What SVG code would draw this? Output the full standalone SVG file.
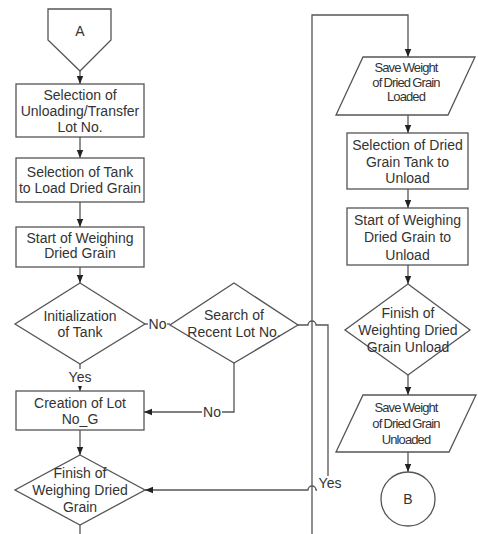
<svg xmlns="http://www.w3.org/2000/svg" width="478" height="534" viewBox="0 0 478 534">
<defs>
<marker id="ah" markerUnits="userSpaceOnUse" markerWidth="8" markerHeight="8" viewBox="0 0 8 8" refX="8" refY="4" orient="auto">
<path d="M0,0.8 L8,4 L0,7.2 Z" fill="#222"/>
</marker>
<style>
.s{fill:#fff;stroke:#555;stroke-width:1.3}
.c{fill:none;stroke:#555;stroke-width:1.3}
.t{font-family:"Liberation Sans",Arial,sans-serif;font-size:14px;fill:#333;text-anchor:middle}
.n{font-family:"Liberation Sans",Arial,sans-serif;font-size:13px;letter-spacing:-0.9px;word-spacing:-0.5px;fill:#333;text-anchor:middle}
.bg{fill:#fff}
</style>
</defs>
<g id="connectors">
<path class="c" d="M80,71 V84" marker-end="url(#ah)"/>
<path class="c" d="M80,137 V158" marker-end="url(#ah)"/>
<path class="c" d="M80,202 V227" marker-end="url(#ah)"/>
<path class="c" d="M80,267 V283" marker-end="url(#ah)"/>
<path class="c" d="M80,364 V391" marker-end="url(#ah)"/>
<path class="c" d="M80,430 V455" marker-end="url(#ah)"/>
<path class="c" d="M80,525 V534"/>
<path class="c" d="M145,324 H170"/>
<path class="c" d="M234,363 V412 H144" marker-end="url(#ah)"/>
<path class="c" d="M298,325 H308 A4,4 0 0 1 316,325 H328 V490 H316 A4,4 0 0 0 308,490 H145" marker-end="url(#ah)"/>
<path class="c" d="M312,534 V15 H408 V57" marker-end="url(#ah)"/>
<path class="c" d="M408,115 V133" marker-end="url(#ah)"/>
<path class="c" d="M408,189 V208" marker-end="url(#ah)"/>
<path class="c" d="M408,265 V284" marker-end="url(#ah)"/>
<path class="c" d="M408,375 V395" marker-end="url(#ah)"/>
<path class="c" d="M408,452 V472" marker-end="url(#ah)"/>
<rect class="bg" x="148" y="317" width="19" height="15"/>
<text class="t" x="157.5" y="329">No</text>
<rect class="bg" x="202" y="405" width="20" height="15"/>
<text class="t" x="212" y="417">No</text>
<rect class="bg" x="66" y="369" width="28" height="17"/>
<text class="t" x="80" y="382">Yes</text>
<rect class="bg" x="317" y="476" width="25" height="17"/>
<text class="t" x="330" y="488">Yes</text>
</g>
<g id="nodeA">
<path class="s" d="M48,9 H111 V40 L80,71 L48,40 Z"/>
<text class="t" x="80" y="36">A</text>
</g>
<g id="selLot">
<rect class="s" x="16" y="84" width="128" height="53"/>
<text class="t" x="80" y="99.5">Selection of</text>
<text class="t" x="80" y="116">Unloading/Transfer</text>
<text class="t" x="80" y="132">Lot No.</text>
</g>
<g id="selTank">
<rect class="s" x="16" y="158" width="128" height="44"/>
<text class="t" x="80" y="177">Selection of Tank</text>
<text class="t" x="80" y="193">to Load Dried Grain</text>
</g>
<g id="startWeigh">
<rect class="s" x="16" y="227" width="128" height="40"/>
<text class="t" x="80" y="243">Start of Weighing</text>
<text class="t" x="80" y="258">Dried Grain</text>
</g>
<g id="initTank">
<path class="s" d="M80,283 L145,324 L80,364 L15,324 Z"/>
<text class="t" x="80" y="321">Initialization</text>
<text class="t" x="80" y="337">of Tank</text>
</g>
<g id="searchLot">
<path class="s" d="M234,283 L298,325 L234,363 L170,325 Z"/>
<text class="t" x="234" y="320">Search of</text>
<text class="t" x="234" y="337">Recent Lot No.</text>
</g>
<g id="createLot">
<rect class="s" x="16" y="391" width="128" height="39"/>
<text class="t" x="80" y="407.5">Creation of Lot</text>
<text class="t" x="80" y="424">No_G</text>
</g>
<g id="finishWeigh">
<path class="s" d="M80,455 L145,490 L80,525 L15,490 Z"/>
<text class="t" x="80" y="478">Finish of</text>
<text class="t" x="80" y="495">Weighing Dried</text>
<text class="t" x="80" y="512">Grain</text>
</g>
<g id="saveLoaded">
<path class="s" d="M363,57 H475 L448,115 H336 Z"/>
<text class="n" x="406" y="72">Save Weight</text>
<text class="n" x="406" y="86.5">of Dried Grain</text>
<text class="n" x="406" y="101">Loaded</text>
</g>
<g id="selUnloadTank">
<rect class="s" x="347" y="133" width="121" height="56"/>
<text class="t" x="407.5" y="150">Selection of Dried</text>
<text class="t" x="407.5" y="167">Grain Tank to</text>
<text class="t" x="407.5" y="183">Unload</text>
</g>
<g id="startUnload">
<rect class="s" x="347" y="208" width="121" height="57"/>
<text class="t" x="407.5" y="225">Start of Weighing</text>
<text class="t" x="407.5" y="242">Dried Grain to</text>
<text class="t" x="407.5" y="260">Unload</text>
</g>
<g id="finishUnload">
<path class="s" d="M408,284 L470,330 L408,375 L345,330 Z"/>
<text class="t" x="408" y="318">Finish of</text>
<text class="t" x="408" y="335">Weighting Dried</text>
<text class="t" x="408" y="352">Grain Unload</text>
</g>
<g id="saveUnloaded">
<path class="s" d="M363,395 H476 L449,452 H336 Z"/>
<text class="n" x="406" y="411.5">Save Weight</text>
<text class="n" x="406" y="427.5">of Dried Grain</text>
<text class="n" x="406" y="444">Unloaded</text>
</g>
<g id="nodeB">
<circle class="s" cx="408" cy="499" r="27"/>
<text class="t" x="408" y="504">B</text>
</g>
</svg>
